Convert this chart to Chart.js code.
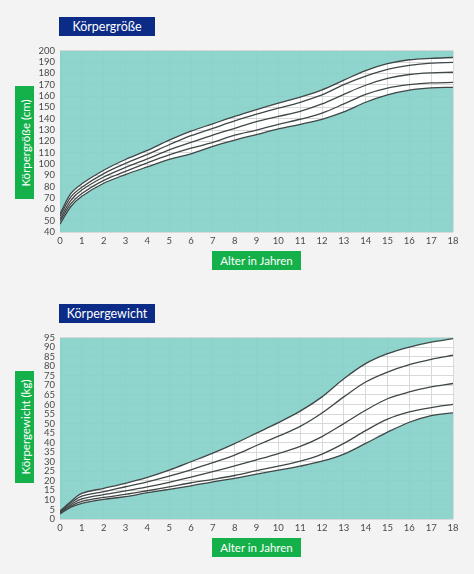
<!DOCTYPE html>
<html lang="de">
<head>
<meta charset="utf-8">
<title>Körpergröße und Körpergewicht</title>
<script src="https://cdn.jsdelivr.net/npm/chart.js@4.4.1/dist/chart.umd.min.js"></script>
<style>
    html, body { margin: 0; padding: 0; }
    body {
        width: 474px; height: 574px; position: relative; overflow: hidden;
        background: #f3f3f3; font-family: Lato, "Open Sans", sans-serif;
    }
    .titel {
        position: absolute; left: 59px; width: 96px; height: 19px;
        background: #0b2b86; color: #fff; font-size: 12.5px;
        line-height: 19px; text-align: center;
    }
    .achse-y {
        position: absolute; left: 15px; width: 19px;
        background: #14b04a; color: #fff;
    }
    .achse-y span {
        position: absolute; left: 50%; top: 50%; white-space: nowrap;
        font-size: 11.5px; line-height: 19px;
        transform: translate(-50%, -50%) rotate(-90deg);
    }
    .achse-x {
        position: absolute; left: 212px; width: 89px; height: 19px;
        background: #14b04a; color: #fff; font-size: 11.5px;
        line-height: 19px; text-align: center;
    }
    .chart-box { position: absolute; left: 0; width: 474px; }
</style>
</head>
<body>

<div class="titel" style="top:17px">Körpergröße</div>
<div class="achse-y" style="top:86px;height:113px"><span>Körpergröße (cm)</span></div>
<div class="chart-box" style="top:40px;height:210px"><canvas id="chartGroesse"></canvas></div>
<div class="achse-x" style="top:251px">Alter in Jahren</div>

<div class="titel" style="top:304px">Körpergewicht</div>
<div class="achse-y" style="top:371px;height:112px"><span>Körpergewicht (kg)</span></div>
<div class="chart-box" style="top:327px;height:210px"><canvas id="chartGewicht"></canvas></div>
<div class="achse-x" style="top:538px">Alter in Jahren</div>

<script>
// --- DATEN ---
const alter = [0, 0.5, 1, 2, 3, 4, 5, 6, 7, 8, 9, 10, 11, 12, 13, 14, 15, 16, 17, 18];
const xTicks = [0, 1, 2, 3, 4, 5, 6, 7, 8, 9, 10, 11, 12, 13, 14, 15, 16, 17, 18];

// Körpergröße in cm, Perzentilkurven von oben nach unten
const groesseP97 = [56, 74, 82.5, 94.5, 104, 112, 121, 129, 135.5, 142, 148, 153.7, 159, 165.5, 174, 182.5, 188.5, 192, 193.3, 194];
const groesseP90 = [54, 71, 79.5, 91.5, 100.5, 108.5, 117, 125, 131.5, 138, 144, 149.3, 154.5, 161, 170, 177.5, 183.5, 187, 189, 189.7];
const groesseP50 = [51.5, 68, 77, 88.5, 97, 104.5, 112.5, 119, 125.5, 131.5, 137.5, 142, 146.5, 153, 161.5, 169.5, 175.5, 179, 180.5, 181];
const groesseP10 = [49.5, 65, 74, 85.5, 93.5, 101, 108, 114, 119, 125.5, 130, 135, 139.5, 145, 153, 161.5, 167, 170, 171.6, 172];
const groesseP3 = [47, 62.5, 71.5, 83, 90.7, 97.5, 104, 109, 115.5, 121, 126, 131, 135, 139.5, 146, 154.5, 161, 165.2, 167.2, 167.7];

// Körpergewicht in kg, Perzentilkurven von oben nach unten
const gewichtP97 = [4.2, 9.2, 13.4, 16.1, 18.7, 21.8, 25.6, 30, 34.5, 39.5, 45, 50.5, 56.5, 64, 73.5, 81.4, 86.6, 90.1, 92.7, 94.5];
const gewichtP90 = [3.8, 8.4, 12, 14.3, 16.9, 19.5, 22.5, 25.8, 29.5, 33.5, 38.5, 43.4, 48.5, 55.5, 64, 71.8, 77, 80.9, 83.7, 85.8];
const gewichtP50 = [3.4, 7.5, 10.5, 12.8, 14.7, 16.8, 19.2, 22, 24.8, 27.8, 31, 34.3, 38, 43.2, 50, 57, 63, 66.6, 69.2, 71];
const gewichtP10 = [3, 6.8, 9.2, 11.3, 12.9, 14.8, 16.8, 19, 20.8, 22.8, 25.3, 27.7, 30.3, 34, 39.6, 46.3, 52.3, 56.1, 58.4, 60.1];
const gewichtP3 = [2.6, 6.2, 8.2, 10.3, 11.7, 13.8, 15.5, 17.4, 19.5, 21.3, 23.5, 25.6, 27.7, 30.3, 34, 39.6, 45.5, 50.7, 54.2, 55.6];

// --- STIL ---
const tuerkis = 'rgba(135, 208, 202, 0.92)';
const linienFarbe = '#3f4747';
const gitterFarbe = '#d9d9d9';

// Hintergrund der Zeichenfläche weiß, damit das Band zwischen den Kurven hell bleibt
const weisseFlaeche = {
    id: 'weisseFlaeche',
    beforeDraw(chart) {
        const { ctx, chartArea: a } = chart;
        ctx.save();
        ctx.fillStyle = '#ffffff';
        ctx.fillRect(a.left, a.top, a.right - a.left, a.bottom - a.top);
        ctx.restore();
    }
};

function punkte(werte) {
    return werte.map((v, i) => ({ x: alter[i], y: v }));
}

function kurve(werte, fuellung) {
    return {
        data: punkte(werte),
        borderColor: linienFarbe,
        borderWidth: 1.3,
        pointRadius: 0,
        tension: 0.35,
        fill: fuellung,
        backgroundColor: tuerkis
    };
}

/**
 * Baut ein Perzentil-Diagramm mit fünf Kurven.
 */
function perzentilChart(id, reihen, yMin, yMax, yStep) {
    const ctx = document.getElementById(id).getContext('2d');
    return new Chart(ctx, {
        type: 'line',
        data: {
            datasets: [
                kurve(reihen[0], 'end'),
                kurve(reihen[1], false),
                kurve(reihen[2], false),
                kurve(reihen[3], false),
                kurve(reihen[4], 'start')
            ]
        },
        options: {
            responsive: true,
            maintainAspectRatio: false,
            animation: false,
            layout: { padding: { top: 10, right: 21, bottom: 0, left: 0 } },
            plugins: { legend: { display: false }, tooltip: { enabled: false } },
            scales: {
                x: {
                    type: 'linear',
                    min: 0,
                    max: 18,
                    afterBuildTicks: s => { s.ticks = xTicks.map(v => ({ value: v })); },
                    afterFit: s => { s.height = 18; },
                    grid: { color: gitterFarbe, lineWidth: 1, drawTicks: false },
                    border: { display: false },
                    ticks: {
                        autoSkip: false,
                        maxRotation: 0,
                        padding: 3,
                        color: '#4a4a4a',
                        font: { family: 'Lato', size: 9.5 }
                    }
                },
                y: {
                    min: yMin,
                    max: yMax,
                    afterFit: s => { s.width = 60; },
                    grid: { color: gitterFarbe, lineWidth: 1, drawTicks: false },
                    border: { display: false },
                    ticks: {
                        stepSize: yStep,
                        autoSkip: false,
                        padding: 5,
                        color: '#4a4a4a',
                        font: { family: 'Lato', size: 9.5 }
                    }
                }
            }
        },
        plugins: [weisseFlaeche]
    });
}

// --- INITIALISIERUNG ---
perzentilChart('chartGroesse', [groesseP97, groesseP90, groesseP50, groesseP10, groesseP3], 40, 200, 10);
perzentilChart('chartGewicht', [gewichtP97, gewichtP90, gewichtP50, gewichtP10, gewichtP3], 0, 95, 5);
</script>
</body>
</html>
